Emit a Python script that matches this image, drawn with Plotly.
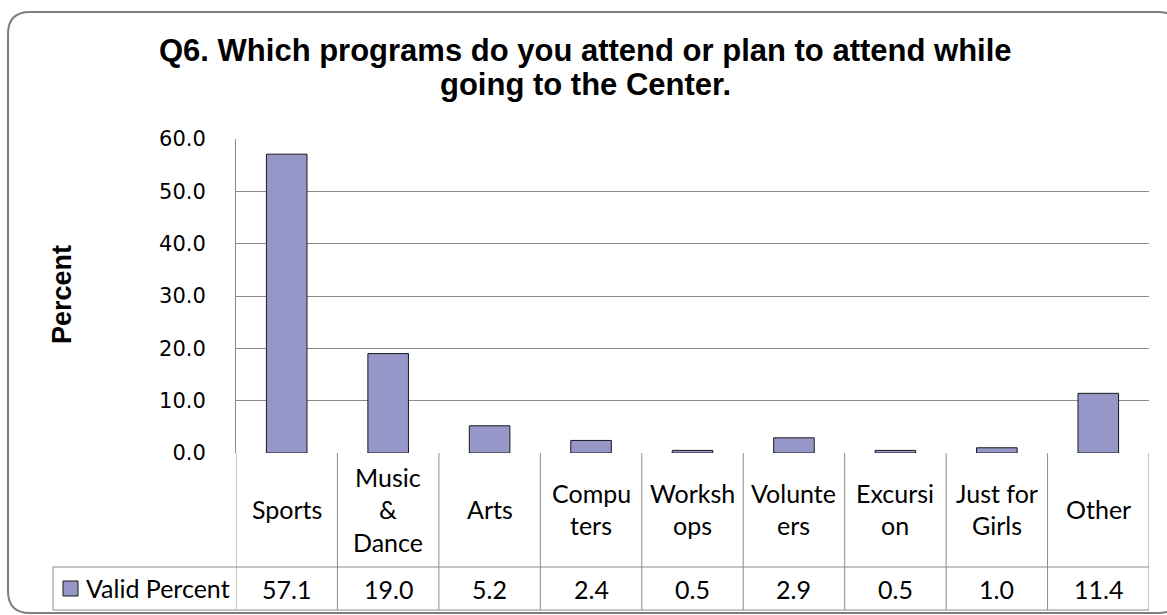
import plotly.graph_objects as go

# ---- data ----
categories = ["Sports", "Music & Dance", "Arts", "Computers", "Workshops",
              "Volunteers", "Excursion", "Just for Girls", "Other"]
# wrapped header text as it appears in the data table
header_lines = [["Sports"], ["Music", "&", "Dance"], ["Arts"], ["Compu", "ters"],
                ["Worksh", "ops"], ["Volunte", "ers"], ["Excursi", "on"],
                ["Just for", "Girls"], ["Other"]]
valid_percent = [57.1, 19.0, 5.2, 2.4, 0.5, 2.9, 0.5, 1.0, 11.4]
series_name = "Valid Percent"
y_tick_values = [0, 10, 20, 30, 40, 50, 60]
y_tick_labels = ["0.0", "10.0", "20.0", "30.0", "40.0", "50.0", "60.0"]

W, H = 1167, 615
BAR_FILL = "#9696C8"
BAR_EDGE = "#1a1a1a"
GRID = "#8c8c8c"
TABLE_FONT = "Lato"
TABLE_SIZE = 25


def px(x):
    return x / W


def py(y):
    return 1 - y / H


plot_left, plot_right = 236, 1149
plot_top, plot_bottom = 139, 453
row_split, table_bottom = 567, 610
legend_left = 53

n = len(categories)
xs = list(range(n))

fig = go.Figure()
fig.add_trace(go.Bar(
    x=xs, y=valid_percent, width=0.4, name=series_name,
    marker=dict(color=BAR_FILL, line=dict(color=BAR_EDGE, width=1)),
    showlegend=False,
))

shapes = []
annotations = []

# outer rounded frame of the chart
r = 22
x0, y0, x1, y1 = px(8), py(12), px(1180), py(613)
rx, ry = px(r), r / H
frame = (f"M {x0 + rx},{y0} L {x1 - rx},{y0} Q {x1},{y0} {x1},{y0 - ry} "
         f"L {x1},{y1 + ry} Q {x1},{y1} {x1 - rx},{y1} "
         f"L {x0 + rx},{y1} Q {x0},{y1} {x0},{y1 + ry} "
         f"L {x0},{y0 - ry} Q {x0},{y0} {x0 + rx},{y0} Z")
shapes.append(dict(type="path", path=frame, xref="paper", yref="paper",
                   line=dict(color="#7f7f7f", width=2), fillcolor="rgba(0,0,0,0)"))

# data table grid
line_style = dict(color=GRID, width=1)
for k in range(n + 1):
    shapes.append(dict(type="line", xref="x", yref="paper",
                       x0=k - 0.5, x1=k - 0.5, y0=py(plot_bottom), y1=py(table_bottom),
                       line=line_style))
shapes.append(dict(type="line", xref="paper", yref="paper",
                   x0=px(legend_left), x1=px(legend_left),
                   y0=py(row_split), y1=py(table_bottom), line=line_style))
for yy in (row_split, table_bottom):
    shapes.append(dict(type="line", xref="paper", yref="paper",
                       x0=px(legend_left), x1=px(plot_right), y0=py(yy), y1=py(yy),
                       line=line_style))

# legend key inside the table
shapes.append(dict(type="rect", xref="paper", yref="paper",
                   x0=px(63), x1=px(78), y0=py(581), y1=py(596),
                   fillcolor=BAR_FILL, line=dict(color=BAR_EDGE, width=1)))
annotations.append(dict(text=series_name, xref="paper", yref="paper",
                        x=px(84), y=py(588), xanchor="left", yanchor="middle",
                        showarrow=False,
                        font=dict(family=TABLE_FONT, size=TABLE_SIZE, color="#000")))

# header cells and value cells
line_gap = 32.5
header_mid = 509
for i, lines in enumerate(header_lines):
    m = len(lines)
    for j, t in enumerate(lines):
        yc = header_mid + (j - (m - 1) / 2) * line_gap
        annotations.append(dict(text=t, xref="x", yref="paper", x=xs[i], y=py(yc),
                                xanchor="center", yanchor="middle", showarrow=False,
                                font=dict(family=TABLE_FONT, size=TABLE_SIZE, color="#000")))
    annotations.append(dict(text=f"{valid_percent[i]:.1f}", xref="x", yref="paper",
                            x=xs[i], y=py(589), xanchor="center", yanchor="middle",
                            showarrow=False,
                            font=dict(family=TABLE_FONT, size=TABLE_SIZE, color="#000")))

# axis title
annotations.append(dict(text="<b>Percent</b>", xref="paper", yref="paper",
                        x=px(62), y=py(295), textangle=-90, showarrow=False,
                        xanchor="center", yanchor="middle",
                        font=dict(family="Liberation Sans", size=27, color="#000")))

# chart title
title_font = dict(family="Liberation Sans", size=31, color="#000")
annotations.append(dict(text="<b>Q6. Which programs do you attend or plan to attend while</b>",
                        xref="paper", yref="paper", x=px(585), y=py(50),
                        xanchor="center", yanchor="middle", showarrow=False,
                        font=title_font))
annotations.append(dict(text="<b>going to the Center.</b>",
                        xref="paper", yref="paper", x=px(585), y=py(85),
                        xanchor="center", yanchor="middle", showarrow=False,
                        font=title_font))

fig.update_layout(
    width=W, height=H, autosize=False,
    margin=dict(l=0, r=0, t=0, b=0, pad=0),
    paper_bgcolor="white", plot_bgcolor="white",
    shapes=shapes, annotations=annotations,
    xaxis=dict(domain=[px(plot_left), px(plot_right)], range=[-0.5, n - 0.5],
               showticklabels=False, showgrid=False, zeroline=False, showline=False,
               automargin=False, fixedrange=True),
    yaxis=dict(domain=[py(plot_bottom), py(plot_top)], range=[0, 60],
               tickvals=y_tick_values, ticktext=y_tick_labels,
               showgrid=True, gridcolor=GRID, gridwidth=1,
               zeroline=False, showline=True, linecolor=GRID, linewidth=1,
               ticks="", ticklabelstandoff=25, automargin=False,
               tickfont=dict(family="DejaVu Sans", size=21, color="#000"),
               fixedrange=True),
    bargap=0.6,
)

fig.write_html("out.html")
